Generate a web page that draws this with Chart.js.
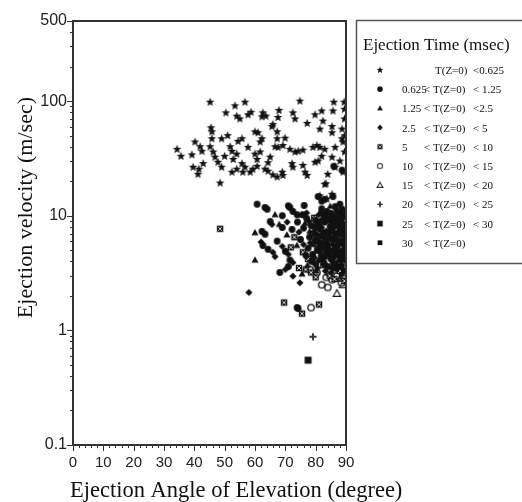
<!DOCTYPE html>
<html>
<head>
<meta charset="utf-8">
<script src="https://cdn.jsdelivr.net/npm/chart.js@4/dist/chart.umd.min.js"></script>
<style>body{margin:0;background:#fff}</style>
</head>
<body>
<canvas id="grafico" width="522" height="502"></canvas>
<script>
// puntos [angulo (grados), velocidad (m/s)] por rango de tiempo de eyeccion
const ptsBelow0625 = [[45.2,98],[53.4,91],[56.7,98],[74.8,100],[86,98],[89.4,98],[50.4,79],[54,74],[55,70],[57.7,76],[58.7,80],[62.6,79],[62.3,73],[63.6,74],[67.9,83],[67.6,72],[72.5,79],[73.2,70],[77.2,64],[79.8,76],[82,82],[85.7,82],[82.4,67],[81.4,57],[85.4,60],[85.4,53],[88.7,57],[89.5,85],[89.5,70],[89.6,50],[89.5,36],
  [34.3,38],[35.6,33],[39.2,34],[40.2,44],[41.9,40],[42.5,36.5],[39.6,26.5],[41.5,25.5],[41.2,23],[42.9,28.5],[45.5,58.5],[45.8,54],[45.8,47],[45.2,40],[46.2,36],[46.8,32.5],[47.8,29.3],[49,26.5],[48.5,19.3],[49,47],[51,50],[51.8,40],[52.4,36.5],[50,33],[52.8,31],[52.4,24],[54,25.5],[54,34.5],[54.4,44.6],[55.7,47],[57.7,39.5],[55.7,28.5],[56.7,26.5],[56,24],[58.4,24],[59.3,25.5],[60,54],[61,53],[62.3,47],[61.7,44],[60,34.5],[61.7,36],[60.7,31],[60.7,27],[63.3,25.5],[64.3,29],[65,32.5],[65.6,60],[65.9,62.5],[67.3,54],[67.3,47],[66.6,40],[67.6,39.5],[64.3,24.5],[65.9,22.7],[67.3,21.8],[69,24],[69.2,22.5],[69.9,47.5],[69.2,41],[71.5,38],[73.2,36],[74.2,36.5],[75.8,37.4],[72.2,28.5],[72.5,26.5],[75.8,27.5],[76.5,24],[77.2,22.5],[79.1,39.5],[80.4,41],[81.4,39.5],[83,38],[79.8,29.3],[80.8,30],[82,33],[85.4,32.4],[86.4,39.5],[84,23],[86.4,26.5],[88,30],[88.7,47],[89,44],[89,24],[83,18.8],[81.4,14.9],[83.7,14],[85.4,15.4],[83.4,19]];
const pts0625to125 = [[60.7,12.6],[63.3,11.8],[64,11.4],[71,12.2],[76.2,12.3],[69,10],[71.5,11.8],[72.5,10.9],[73.9,10.2],[75.8,10.2],[80.8,14.7],[82,13.4],[83,13.9],[82,11.5],[83.7,10.9],[85.7,14.7],[86.4,12],[88,12.6],[88.7,11.4],[86,27],[88.7,25],[65,8.9],[62.3,7.3],[63.3,6.9],[69,7.9],[72.2,7.6],[62.6,5.5],[64.3,5.1],[67.3,6],[70,4.9],[71.5,4.1],[73.9,1.58],[74.2,1.55],[68.2,3.2],[71,3.6],
  [77,9.5],[78.5,8.2],[80,9.1],[81.5,7.6],[83,8.8],[84.5,7.2],[86,9.4],[87.5,8.1],[89,9.7],[89.5,7.4],[78,6.5],[79.5,7.1],[81,5.9],[82.5,6.6],[84,5.6],[85.5,6.2],[87,5.4],[88.5,6],[89.6,5.2],[77.5,5.2],[79,4.6],[80.5,5],[82,4.3],[83.5,4.8],[85,4.2],[86.5,4.6],[88,4.1],[89.3,4.5],[80,3.8],[84,3.6],[87,3.5],[89.5,3.3],[76,7.8],[75,6.2],[74,8.8],[76.8,4.5],[83,10],[85,10.5],[87,11],[89.5,10.8],[81,8.4],[86.5,7],[88.2,7.6],[84.2,9.2],[79.8,6.1],[82.8,5.3],[86,5],[88.8,4.9],[85.8,3.9],[78.6,4],
  [80.2,7.9],[81.8,8.9],[83.2,7.1],[84.8,8.1],[86.3,8.6],[87.7,9.4],[89.1,8.3],[80.9,6.5],[82.3,5.7],[83.8,6.4],[85.2,7.4],[86.9,6.1],[88.3,6.8],[89.7,6.1],[81.5,4.9],[83,4.4],[84.5,4.9],[86,4.4],[87.5,4.6],[89,4.2],[82.8,3.8],[85.6,3.5],[88.4,3.6],[84.4,10.1],[87.6,9.9],[81.9,10.6]];
const pts125to25 = [[66.6,10.2],[75.5,10.2],[60,7.1],[60,4.1],[75.5,3.1],[78,7.3],[80.7,8.7],[83.5,6.1],[85.5,8.3],[87.8,5.7],[89.2,8.5],[81.6,4.6],[84.7,5.1],[86.8,3.8],[88.6,3.1],[79,5.6],[82.2,9.6],[76.5,8.6],[70.5,6.8],[73.8,5.5],[68,8.4],[84.8,12.1],[89.7,6.4],[77.3,3.7],[80.2,3.3]];
const pts25to5 = [[58,2.14],[72.5,2.97],[74.8,2.6],[65.6,8.4],[70.6,8.8],[65.9,4.8],[66.6,4.4],[69,5.4],[71,4.6],[70,3.4],[72.5,3.9],[62,5.9],[77.8,8.9],[79.2,8],[80.6,6.8],[82,7.9],[83.6,7.4],[85.2,8.9],[86.6,6.5],[88,9],[89.4,6.8],[78.2,5.8],[79.6,4.3],[81.2,5.4],[82.6,4],[84.2,4.5],[85.6,5.6],[87.2,4.9],[88.6,3.7],[89.8,4],[80.6,3.5],[83.2,3.3],[85.2,3.2],[76,5.6],[74.5,7.2],[77,10.6],[81,10.2],[86,9.9],[88.4,10.3],
  [80.4,8.2],[83.1,9.4],[85.9,7.8],[88.9,7.2],[82.1,6.9],[84.9,6.6],[87.4,7.2],[81.1,4.1],[84,5.2],[86.6,5.3],[89.2,5.6],[87.9,4.4]];
const pts5to10 = [[48.5,7.7],[69.6,1.75],[75.5,1.4],[81.1,1.68],[73,6.5],[75.8,4.8],[77.5,4.2],[78.5,3.2],[80,2.9],[82.5,3.7],[84.6,3],[86.2,2.8],[88,3.3],[89.5,2.7],[81.8,6.2],[84,6.8],[86.2,8.2],[88.5,5.3],[79.5,9.6],[83.8,9.8],[87.2,10.6],[78.8,6.9],[71.8,5.3],[74.5,3.5],[76.7,3.4],
  [83.4,5.9],[86.7,9.1],[89.6,9.1],[80.5,5.6],[85.4,4.7],[87.8,3.9]];
const pts10to15 = [[78.1,3.4],[80.4,3.2],[82,2.5],[84,2.37],[85.4,2.77],[87,2.97],[78.5,1.58],[88.5,2.6],[83.5,2.9]];
const pts15to20 = [[87,2.1],[89,2.5],[89.3,3],[88.2,2.85]];
const pts20to25 = [[79.1,0.88],[86.8,3.4],[84.3,3.05]];
const pts25to30 = [[77.5,0.55]];
const pts30up = [];

const xTicks = [0, 10, 20, 30, 40, 50, 60, 70, 80, 90];
const yTicks = [0.1, 1, 10, 100, 500];
const legendLow = ['', '0.625', '1.25', '2.5', '5', '10', '15', '20', '25', '30'];
const legendHigh = ['<0.625', '< 1.25', '<2.5', '< 5', '< 10', '< 15', '< 20', '< 25', '< 30', ''];

// marcadores dibujados en canvas chicos
function marcador(size, dibujar) {
    const c = document.createElement('canvas');
    c.width = size; c.height = size;
    const g = c.getContext('2d');
    g.translate(size / 2, size / 2);
    g.fillStyle = '#111'; g.strokeStyle = '#111';
    dibujar(g);
    return c;
}
const mStar = marcador(11, g => {
    g.beginPath();
    for (let i = 0; i < 10; i++) {
        const r = i % 2 ? 2 : 4.5, a = -Math.PI / 2 + i * Math.PI / 5;
        g.lineTo(r * Math.cos(a), r * Math.sin(a));
    }
    g.closePath(); g.fill();
});
const mCirc = marcador(9, g => { g.beginPath(); g.arc(0, 0, 3.4, 0, Math.PI * 2); g.fill(); });
const mTri = marcador(10, g => { g.beginPath(); g.moveTo(0, -3.8); g.lineTo(3.5, 2.6); g.lineTo(-3.5, 2.6); g.closePath(); g.fill(); });
const mDia = marcador(10, g => { g.beginPath(); g.moveTo(0, -3.6); g.lineTo(3.6, 0); g.lineTo(0, 3.6); g.lineTo(-3.6, 0); g.closePath(); g.fill(); });
const mBoxX = marcador(10, g => {
    g.fillRect(-3.2, -3.2, 6.4, 6.4);
    g.strokeStyle = '#fff'; g.lineWidth = 0.8;
    g.beginPath(); g.moveTo(-2, -2); g.lineTo(2, 2); g.moveTo(2, -2); g.lineTo(-2, 2); g.stroke();
});
const mOpenCirc = marcador(10, g => { g.lineWidth = 1.3; g.beginPath(); g.arc(0, 0, 3.2, 0, Math.PI * 2); g.stroke(); });
const mOpenTri = marcador(11, g => { g.lineWidth = 1.2; g.beginPath(); g.moveTo(0, -3.8); g.lineTo(3.6, 2.8); g.lineTo(-3.6, 2.8); g.closePath(); g.stroke(); });
const mPlus = marcador(10, g => {
    g.lineWidth = 2; g.strokeStyle = '#333';
    g.beginPath(); g.moveTo(-3.5, 0); g.lineTo(3.5, 0); g.moveTo(0, -3.5); g.lineTo(0, 3.5); g.stroke();
});
const mSq = marcador(10, g => { g.fillRect(-3.5, -3.5, 7, 7); });
const mSq30 = marcador(10, g => { g.fillRect(-3, -3, 6, 6); });

const series = [
    [ptsBelow0625, mStar], [pts0625to125, mCirc], [pts125to25, mTri], [pts25to5, mDia], [pts5to10, mBoxX],
    [pts10to15, mOpenCirc], [pts15to20, mOpenTri], [pts20to25, mPlus], [pts25to30, mSq], [pts30up, mSq30]
];

const marcoYEjes = {
    id: 'marcoYEjes',
    afterDraw(chart) {
        const ctx = chart.ctx, a = chart.chartArea;
        const sx = chart.scales.x, sy = chart.scales.y;
        ctx.save();
        ctx.strokeStyle = '#333';
        ctx.lineWidth = 1;
        ctx.beginPath();
        for (let v = 0; v <= 90; v += 2) {
            const px = Math.round(sx.getPixelForValue(v)) + 0.5;
            ctx.moveTo(px, a.bottom); ctx.lineTo(px, a.bottom + (v % 10 === 0 ? 6 : 3));
        }
        [0.1, 1, 10, 100].forEach(d => {
            for (let k = 1; k <= 9; k++) {
                const v = k * d;
                if (v > 500) break;
                const py = Math.round(sy.getPixelForValue(v)) + 0.5;
                ctx.moveTo(a.left, py); ctx.lineTo(a.left - (k === 1 || v === 500 ? 6 : 3), py);
            }
        });
        ctx.stroke();
        ctx.lineWidth = 2;
        ctx.strokeStyle = '#333';
        ctx.strokeRect(a.left, a.top, a.right - a.left, a.bottom - a.top);

        // titulos de ejes
        ctx.fillStyle = '#111';
        ctx.font = '22.5px "Liberation Serif"';
        ctx.textAlign = 'left'; ctx.textBaseline = 'alphabetic';
        ctx.fillText('Ejection Angle of Elevation (degree)', 70, 497);
        ctx.font = '22px "Liberation Serif"';
        ctx.translate(32, 97);
        ctx.rotate(-Math.PI / 2);
        ctx.textAlign = 'right';
        ctx.fillText('Ejection velocity (m/sec)', 0, 0);
        ctx.restore();

        // leyenda
        ctx.save();
        ctx.strokeStyle = '#555'; ctx.lineWidth = 1.5;
        ctx.strokeRect(356.5, 20.5, 180, 243);
        ctx.fillStyle = '#111';
        ctx.font = '17px "Liberation Serif"';
        ctx.fillText('Ejection Time (msec)', 363, 50);
        ctx.font = '11px "Liberation Serif"';
        series.forEach((s, i) => {
            const y = 70 + i * 19.2;
            const img = s[1];
            ctx.drawImage(img, 380 - img.width * 0.4, y - img.height * 0.4, img.width * 0.8, img.height * 0.8);
            ctx.fillText(legendLow[i], 402, y + 4);
            if (i === 0) ctx.fillText('T(Z=0)', 435, y + 4);
            else ctx.fillText('< T(Z=0)', 424, y + 4);
            ctx.fillText(legendHigh[i], 473, y + 4);
        });
        ctx.restore();
    }
};

new Chart(document.getElementById('grafico'), {
    type: 'scatter',
    data: {
        datasets: series.map(s => ({
            data: s[0].map(p => ({ x: p[0], y: p[1] })),
            pointStyle: s[1],
            pointRadius: 4
        }))
    },
    options: {
        responsive: false,
        animation: false,
        layout: { padding: { top: 21, right: 176, left: 0, bottom: 0 } },
        plugins: { legend: { display: false }, tooltip: { enabled: false } },
        scales: {
            x: {
                type: 'linear', min: 0, max: 90,
                afterFit: s => { s.height = 57; },
                afterBuildTicks: s => { s.ticks = xTicks.map(v => ({ value: v })); },
                grid: { display: false, drawTicks: false },
                border: { display: false },
                ticks: { color: '#222', padding: 9, maxRotation: 0, font: { family: 'Liberation Sans', size: 15 } }
            },
            y: {
                type: 'logarithmic', min: 0.1, max: 500,
                afterFit: s => { s.width = 73; },
                afterBuildTicks: s => { s.ticks = yTicks.map(v => ({ value: v })); },
                grid: { display: false, drawTicks: false },
                border: { display: false },
                ticks: { color: '#222', padding: 6, font: { family: 'Liberation Sans', size: 16 }, callback: v => String(v) }
            }
        }
    },
    plugins: [marcoYEjes]
});
</script>
</body>
</html>
